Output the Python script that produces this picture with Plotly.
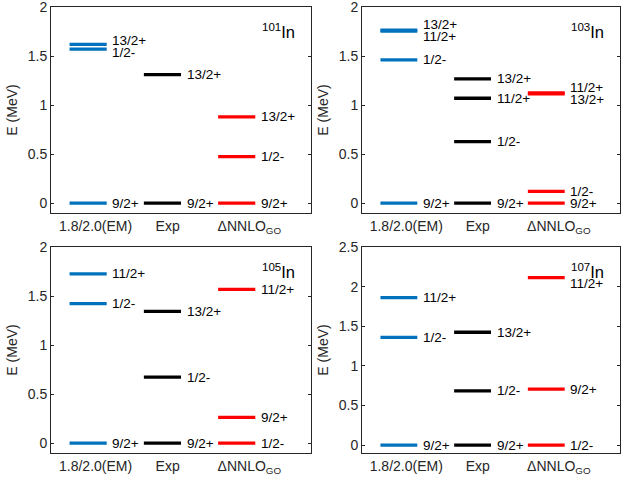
import plotly.graph_objects as go

# ---------------- data ----------------
nuclei = ["101", "103", "105", "107"]
columns = ["1.8/2.0(EM)", "Exp", "ΔNNLO<sub>GO</sub>"]

# 101In
em_101_states = ["9/2+", "1/2-", "13/2+"]
em_101_E = [0.0, 1.57, 1.62]
exp_101_states = ["9/2+", "13/2+"]
exp_101_E = [0.0, 1.31]
nnlo_101_states = ["9/2+", "1/2-", "13/2+"]
nnlo_101_E = [0.0, 0.475, 0.88]

# 103In
em_103_states = ["9/2+", "1/2-", "11/2+", "13/2+"]
em_103_E = [0.0, 1.46, 1.755, 1.765]
exp_103_states = ["9/2+", "1/2-", "11/2+", "13/2+"]
exp_103_E = [0.0, 0.627, 1.07, 1.268]
nnlo_103_states = ["9/2+", "1/2-", "13/2+", "11/2+"]
nnlo_103_E = [0.0, 0.12, 1.115, 1.125]

# 105In
em_105_states = ["9/2+", "1/2-", "11/2+"]
em_105_E = [0.0, 1.422, 1.727]
exp_105_states = ["9/2+", "1/2-", "13/2+"]
exp_105_E = [0.0, 0.674, 1.344]
nnlo_105_states = ["1/2-", "9/2+", "11/2+"]
nnlo_105_E = [0.0, 0.263, 1.569]

# 107In
em_107_states = ["9/2+", "1/2-", "11/2+"]
em_107_E = [0.0, 1.36, 1.862]
exp_107_states = ["9/2+", "1/2-", "13/2+"]
exp_107_E = [0.0, 0.685, 1.424]
nnlo_107_states = ["1/2-", "9/2+", "11/2+"]
nnlo_107_E = [0.0, 0.706, 2.113]

y_max = [2.0, 2.0, 2.0, 2.5]

panels = [
    [(em_101_states, em_101_E), (exp_101_states, exp_101_E), (nnlo_101_states, nnlo_101_E)],
    [(em_103_states, em_103_E), (exp_103_states, exp_103_E), (nnlo_103_states, nnlo_103_E)],
    [(em_105_states, em_105_E), (exp_105_states, exp_105_E), (nnlo_105_states, nnlo_105_E)],
    [(em_107_states, em_107_E), (exp_107_states, exp_107_E), (nnlo_107_states, nnlo_107_E)],
]

# ---------------- styling ----------------
colors = ["#0072BD", "#000000", "#FF0000"]
W, H = 623, 479
def fx(px):
    return max(0.0, min(1.0, px / W))
def fy(px):
    return max(0.0, min(1.0, 1 - px / H))
xdoms = [[fx(51), fx(311)], [fx(362), fx(620)]]
ydoms = [[fy(213), fy(7)], [fy(453), fy(247)]]
FONT = "Liberation Sans, Arial, sans-serif"
AX = "#262626"
half = 0.25
label_dx = 0.3
tick_pos = [1.1, 2.07, 3.17]


def spread(vals, min_sep, cap=None):
    """label positions: push close labels apart symmetrically, keep below cap"""
    order = sorted(range(len(vals)), key=lambda i: vals[i])
    pos = [vals[i] for i in order]
    for _ in range(20):
        for k in range(len(pos) - 1):
            d = pos[k + 1] - pos[k]
            if d < min_sep * 0.8:
                m = (pos[k + 1] + pos[k]) / 2
                pos[k] = m - min_sep / 2
                pos[k + 1] = m + min_sep / 2
    if cap is not None and pos and pos[-1] > cap:
        pos[-1] = cap
    out = [0] * len(vals)
    for k, i in enumerate(order):
        out[i] = pos[k]
    return out


fig = go.Figure()
annotations = []
layout = {}

for p, cols in enumerate(panels):
    r, c = divmod(p, 2)
    idx = "" if p == 0 else str(p + 1)
    xa, ya = "x" + idx, "y" + idx
    rng = [-0.1, y_max[p] + 1e-6]
    px_per_unit = 206 / (rng[1] - rng[0])
    min_sep = 12.5 / px_per_unit
    cap = rng[0] + 0.825 * (rng[1] - rng[0])
    for ci, (states, E) in enumerate(cols):
        xc = ci + 1
        xs, ys = [], []
        for e in E:
            xs += [xc - half, xc + half, None]
            ys += [e, e, None]
        fig.add_trace(go.Scatter(x=xs, y=ys, mode="lines", xaxis=xa, yaxis=ya,
                                 line=dict(color=colors[ci], width=3.3),
                                 showlegend=False, hoverinfo="skip"))
        lab_y = spread(E, min_sep, cap if ci == 2 else None)
        for s, ly in zip(states, lab_y):
            annotations.append(dict(x=xc + label_dx, y=ly, xref=xa, yref=ya,
                                    text=s, showarrow=False, xanchor="left",
                                    yanchor="middle",
                                    font=dict(family=FONT, size=13.5, color="#000")))
    annotations.append(dict(x=0.945, y=0.885, xref=xa + " domain", yref=ya + " domain",
                            text="<sup>" + nuclei[p] + "</sup>In", showarrow=False,
                            xanchor="right", yanchor="middle",
                            font=dict(family=FONT, size=16.5, color="#000")))
    key = "" if p == 0 else str(p + 1)
    layout["xaxis" + key] = dict(domain=xdoms[c], range=[0.5, 4.0], anchor=ya,
                                 tickvals=tick_pos, ticktext=columns, ticks="",
                                 showline=True, mirror=True, linecolor=AX, linewidth=1,
                                 showgrid=False, zeroline=False, automargin=False,
                                 tickfont=dict(family=FONT, size=14, color=AX))
    layout["yaxis" + key] = dict(domain=ydoms[r], range=rng, anchor=xa,
                                 dtick=0.5, ticks="inside", ticklen=3, tickcolor=AX,
                                 showline=True, mirror="ticks", linecolor=AX, linewidth=1,
                                 showgrid=False, zeroline=False, automargin=False,
                                 ticklabeloverflow="allow",
                                 title=dict(text="E (MeV)", standoff=6,
                                            font=dict(family=FONT, size=14, color=AX)),
                                 tickfont=dict(family=FONT, size=14, color=AX))

fig.update_layout(width=W, height=H, margin=dict(l=0, r=0, t=0, b=0, autoexpand=False),
                  paper_bgcolor="white", plot_bgcolor="white",
                  annotations=annotations, **layout)

fig.write_html("out.html", config={"displayModeBar": False},
               post_script="document.body.style.margin='0';document.body.style.overflow='hidden';")
